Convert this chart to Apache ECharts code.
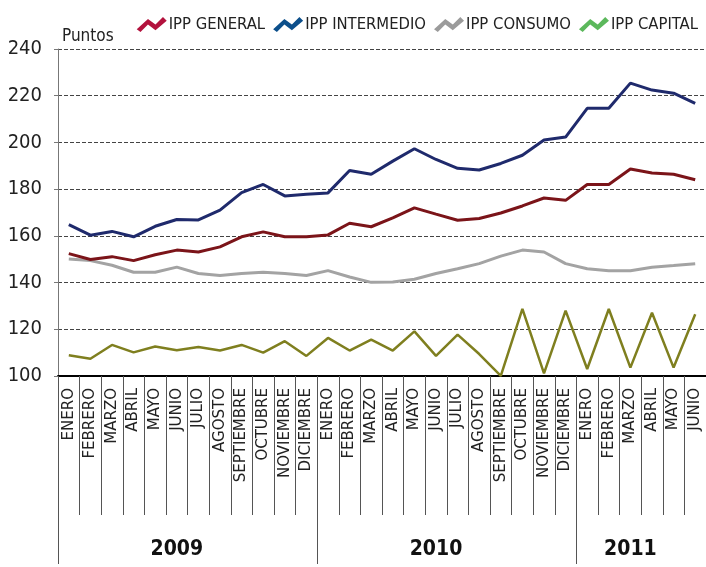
<!DOCTYPE html>
<html><head><meta charset="utf-8">
<script src="https://cdn.jsdelivr.net/npm/echarts@6/dist/echarts.min.js"></script>
<style>html,body{margin:0;padding:0;background:#fff}#c{width:706px;height:567px}</style>
</head><body><div id="c"></div>
<script>
const months = ['ENERO','FEBRERO','MARZO','ABRIL','MAYO','JUNIO','JULIO','AGOSTO','SEPTIEMBRE','OCTUBRE','NOVIEMBRE','DICIEMBRE',
  'ENERO','FEBRERO','MARZO','ABRIL','MAYO','JUNIO','JULIO','AGOSTO','SEPTIEMBRE','OCTUBRE','NOVIEMBRE','DICIEMBRE',
  'ENERO','FEBRERO','MARZO','ABRIL','MAYO','JUNIO'];
const years = ['2009','2010','2011'];
const yearSpans = [12,12,6];
const ippGeneral = [152.4,149.9,151.1,149.4,151.9,153.9,153.1,155.3,159.6,161.7,159.6,159.6,
  160.4,165.4,163.9,167.7,172.0,169.3,166.7,167.4,169.8,172.8,176.2,175.2,182.0,182.0,188.6,186.9,186.4,184.0];
const ippIntermedio = [164.8,160.3,161.9,159.6,164.1,167.0,166.8,171.0,178.5,182.0,177.1,177.8,
  178.4,188.0,186.4,192.0,197.3,192.7,188.9,188.2,191.0,194.5,201.0,202.3,214.6,214.6,225.4,222.4,221.1,216.7];
const ippConsumo = [150.1,149.4,147.4,144.4,144.4,146.6,143.9,143.0,143.9,144.4,143.9,143.0,
  145.1,142.4,140.1,140.2,141.4,143.9,145.9,148.1,151.3,153.9,153.1,148.1,145.9,145.1,145.1,146.6,147.3,148.1];
const ippCapital = [108.9,107.4,113.3,110.1,112.6,111.0,112.4,110.9,113.3,110.0,114.9,108.6,
  116.3,110.9,115.6,110.9,119.1,108.6,117.7,109.4,100.1,128.7,101.1,128.0,103.0,128.7,103.6,127.1,103.6,126.4];
const seriesNames = ['IPP GENERAL','IPP INTERMEDIO','IPP CONSUMO','IPP CAPITAL'];
const yTicks = {min:100, max:240, step:20};

const lineColors = ['#7b1419','#1f2a6c','#a3a3a3','#7f7f1f'];
const legendColors = ['#b3123d','#0c4f8b','#9b9b9b','#5cb85c'];
const NARROW = '"DejaVu Sans Condensed",sans-serif';

// year axis labels: place each year at the middle category of its span
const yearAxisData = [];
years.forEach((y,k)=>{ for(let i=0;i<yearSpans[k];i++) yearAxisData.push(i===Math.floor((yearSpans[k]-1)/2)?y:''); });
const yearStarts = []; let acc=0; yearSpans.forEach(s=>{yearStarts.push(acc); acc+=s;});

const chart = echarts.init(document.getElementById('c'), null, {renderer:'canvas'});
const data = [ippGeneral, ippIntermedio, ippConsumo, ippCapital];
chart.setOption({
  animation:false,
  backgroundColor:'#fff',
  legend:{
    right:3, top:11, itemGap:8, itemWidth:32, itemHeight:15,
    icon:'path://M0,13 L12,2 L20,8 L28,0 L32,4 L20,14 L12,8 L4,16 Z',
    textStyle:{fontFamily:NARROW, fontSize:16.5, color:'#222', padding:[0,0,0,-4]},
    data: seriesNames.map((n,i)=>({name:n, itemStyle:{color:legendColors[i]}}))
  },
  grid:{left:58, right:0, top:49, bottom:191, containLabel:false},
  xAxis:[{
    type:'category', data:months, boundaryGap:true,
    axisLine:{show:true, lineStyle:{color:'#000', width:2}},
    axisTick:{show:true, interval:0, length:139, lineStyle:{color:'#555', width:1}},
    axisLabel:{interval:0, rotate:90, margin:12, fontSize:15, color:'#222', fontFamily:'"DejaVu Sans",sans-serif'},
    splitLine:{show:false}
  },{
    type:'category', data:yearAxisData, boundaryGap:true, position:'bottom',
    axisLine:{show:false},
    axisTick:{show:true, interval:(i)=>yearStarts.includes(i), length:188, lineStyle:{color:'#555', width:1}},
    axisLabel:{interval:0, margin:163, fontSize:21, fontWeight:'bold', color:'#111', fontFamily:NARROW},
    splitLine:{show:false}
  }],
  yAxis:{
    type:'value', min:yTicks.min, max:yTicks.max, interval:yTicks.step,
    name:'Puntos', nameLocation:'end', nameGap:4,
    nameTextStyle:{fontFamily:NARROW, fontSize:17, color:'#222', align:'left', padding:[0,0,0,4]},
    axisLine:{show:true, lineStyle:{color:'#777', width:1}},
    axisTick:{show:true, length:4, lineStyle:{color:'#777'}},
    axisLabel:{fontFamily:NARROW, fontSize:20, color:'#222', margin:16},
    splitLine:{show:true, lineStyle:{type:'dashed', color:'#444', width:1}}
  },
  series: seriesNames.map((n,i)=>({
    name:n, type:'line', data:data[i], symbol:'none', xAxisIndex:0,
    lineStyle:{color:lineColors[i], width:i===3?2.5:3}, itemStyle:{color:lineColors[i]},
    z: [4,4,3,3][i]
  }))
});
</script></body></html>
